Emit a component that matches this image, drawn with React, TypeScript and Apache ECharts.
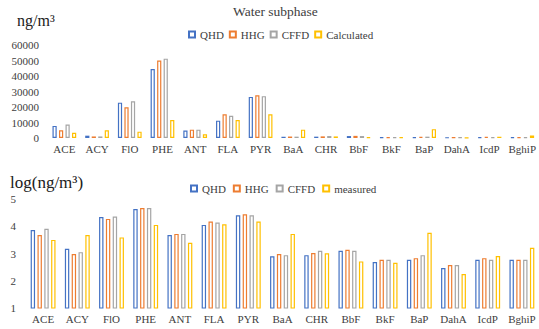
import React, { useEffect, useRef } from "react";
import * as echarts from "echarts";

const categories = ["ACE", "ACY", "FlO", "PHE", "ANT", "FLA", "PYR", "BaA", "CHR", "BbF", "BkF", "BaP", "DahA", "IcdP", "BghiP"];

const waterQHD = [7800, 1500, 22800, 44500, 4800, 11200, 26500, 800, 870, 1260, 490, 590, 300, 590, 590];
const waterHHG = [5000, 1000, 19800, 50000, 5400, 15300, 27500, 950, 1050, 1380, 590, 680, 380, 680, 590];
const waterCFFD = [8700, 1000, 23700, 51200, 5400, 14400, 27000, 870, 1260, 1260, 590, 870, 380, 590, 590];
const waterCalculated = [3400, 5000, 4100, 11600, 2400, 11600, 15300, 5400, 1020, 510, 460, 5700, 180, 810, 1650];

const logQHD = [3.86, 3.17, 4.34, 4.63, 3.68, 4.05, 4.4, 2.9, 2.94, 3.1, 2.69, 2.77, 2.47, 2.77, 2.77];
const logHHG = [3.68, 2.98, 4.27, 4.67, 3.72, 4.17, 4.44, 2.98, 3.02, 3.14, 2.77, 2.83, 2.58, 2.83, 2.77];
const logCFFD = [3.91, 3.05, 4.36, 4.67, 3.72, 4.14, 4.4, 2.94, 3.1, 3.1, 2.77, 2.94, 2.58, 2.77, 2.77];
const logMeasured = [3.5, 3.68, 3.59, 4.05, 3.39, 4.07, 4.17, 3.72, 3.01, 2.71, 2.66, 3.76, 2.25, 2.91, 3.21];

const topLegend = ["QHD", "HHG", "CFFD", "Calculated"];
const bottomLegend = ["QHD", "HHG", "CFFD", "measured"];

const COLORS = ["#4472C4", "#ED7D31", "#A5A5A5", "#FFC000"];
const FONT = "Liberation Serif, serif";

export default function App() {
  const ref = useRef<HTMLDivElement>(null);
  useEffect(() => {
    document.body.style.margin = "0";
    if (!ref.current) return;
    const chart = echarts.init(ref.current, undefined, { renderer: "svg" });
    const mk = (name: string, data: number[], i: number, grid: number, bw: number) => ({
      name,
      type: "bar",
      xAxisIndex: grid,
      yAxisIndex: grid,
      data,
      barWidth: bw,
      barGap: "55%",
      itemStyle: { color: "#ffffff", borderColor: COLORS[i], borderWidth: 1.2 },
    });
    const topData = [waterQHD, waterHHG, waterCFFD, waterCalculated];
    const botData = [logQHD, logHHG, logCFFD, logMeasured];
    const axisLabelStyle = { fontFamily: FONT, fontSize: 11, color: "#404040" };
    const legendText = { fontFamily: FONT, fontSize: 11, color: "#404040" };
    chart.setOption({
      animation: false,
      textStyle: { fontFamily: FONT },
      graphic: [
        { type: "text", left: 233, top: 4, style: { text: "Water subphase", font: `13.5px ${FONT}`, fill: "#404040" } },
        { type: "text", left: 17, top: 12, style: { text: "ng/m³", font: `16px ${FONT}`, fill: "#202020" } },
        { type: "text", left: 10, top: 174, style: { text: "log(ng/m³)", font: `17px ${FONT}`, fill: "#202020" } },
      ],
      legend: [
        {
          data: topLegend,
          left: 183,
          top: 24,
          icon: "rect",
          itemWidth: 6,
          itemHeight: 6,
          itemGap: 5,
          textStyle: legendText,
        },
        {
          data: bottomLegend,
          left: 185,
          top: 178,
          icon: "rect",
          itemWidth: 6,
          itemHeight: 6,
          itemGap: 7,
          textStyle: legendText,
        },
      ],
      grid: [
        { left: 48, width: 491, top: 45, height: 93 },
        { left: 26, width: 513, top: 199, height: 109 },
      ],
      xAxis: [0, 1].map((g) => ({
        type: "category",
        gridIndex: g,
        data: categories,
        axisLine: { show: false },
        axisTick: { show: false },
        axisLabel: { ...axisLabelStyle, margin: 5, interval: 0 },
      })),
      yAxis: [
        {
          type: "value",
          gridIndex: 0,
          min: 0,
          max: 60000,
          interval: 10000,
          splitLine: { show: false },
          axisLabel: { ...axisLabelStyle, margin: 9, formatter: (v: number) => String(v) },
        },
        {
          type: "value",
          gridIndex: 1,
          min: 1,
          max: 5,
          interval: 1,
          splitLine: { show: false },
          axisLabel: { ...axisLabelStyle, margin: 10, formatter: (v: number) => String(v) },
        },
      ],
      series: [
        ...topLegend.map((n, i) => mk(n, topData[i], i, 0, 4.2)),
        ...bottomLegend.map((n, i) => mk(n, botData[i], i, 1, 4.4)),
      ],
    });
    return () => chart.dispose();
  }, []);
  return <div ref={ref} style={{ width: 539, height: 329 }} />;
}
